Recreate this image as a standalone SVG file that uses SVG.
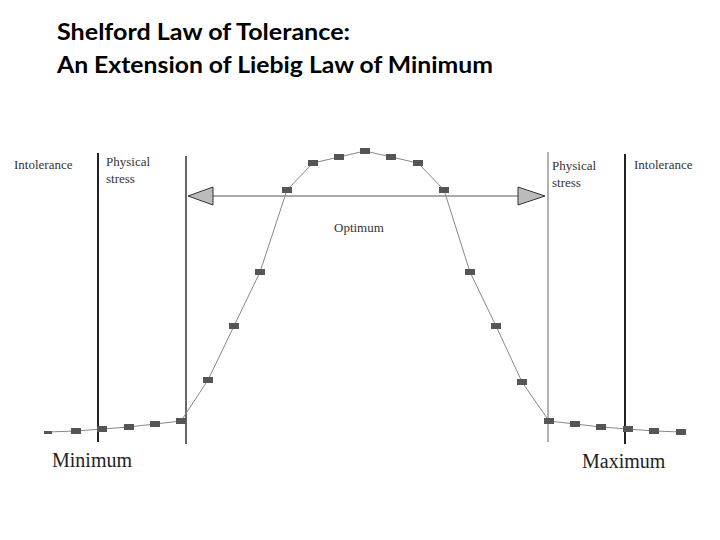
<svg xmlns="http://www.w3.org/2000/svg" width="720" height="540" viewBox="0 0 720 540">
<style>
.t{font-family:Lato,"Open Sans",sans-serif;font-size:23px;font-weight:bold;fill:#000}
.s{font-family:"Liberation Serif",serif;font-size:13px;fill:#333}
.b{font-family:"Liberation Serif",serif;font-size:20px;fill:#222}
.pt{fill:#555}
</style>
<defs><rect id="p" x="-5" y="-3" width="10" height="6" class="pt"/></defs>
<rect width="720" height="540" fill="#fff"/>
<text class="t" x="57" y="40" textLength="293" lengthAdjust="spacingAndGlyphs">Shelford Law of Tolerance:</text>
<text class="t" x="57" y="73" textLength="436" lengthAdjust="spacingAndGlyphs">An Extension of Liebig Law of Minimum</text>
<g id="lines">
<line x1="98" y1="153" x2="98" y2="442" stroke="#222" stroke-width="2"/>
<line x1="186" y1="156" x2="186" y2="444" stroke="#333" stroke-width="1.5"/>
<line x1="548" y1="152" x2="548" y2="442" stroke="#999" stroke-width="1.5"/>
<line x1="625" y1="154" x2="625" y2="444" stroke="#222" stroke-width="2"/>
</g>
<g id="connectors">
<line x1="210" y1="196" x2="520" y2="196" stroke="#aaa" stroke-width="2"/>
<polygon points="188,196 213,187 213,205" fill="#bbb" stroke="#333" stroke-width="1"/>
<polygon points="545,196 518,187 518,205" fill="#bbb" stroke="#333" stroke-width="1"/>
<polyline fill="none" stroke="#888" stroke-width="1" points="47,432 76,431 102,429 129,427 155,424 181,421 208,380 234,326 260,272 287,190 313,163 339,157 365,151 391,157 418,163 444,190 470,272 496,326 522,382 549,421 575,424 601,427 628,429 654,431 681,432"/>
</g>
<g id="points">
<rect x="44" y="431" width="8" height="3" class="pt"/>
<use href="#p" x="76" y="431"/><use href="#p" x="102" y="429"/><use href="#p" x="129" y="427"/><use href="#p" x="155" y="424"/><use href="#p" x="181" y="421"/><use href="#p" x="208" y="380"/><use href="#p" x="234" y="326"/><use href="#p" x="260" y="272"/><use href="#p" x="287" y="190"/><use href="#p" x="313" y="163"/><use href="#p" x="339" y="157"/><use href="#p" x="365" y="151"/><use href="#p" x="391" y="157"/><use href="#p" x="418" y="163"/><use href="#p" x="444" y="190"/><use href="#p" x="470" y="272"/><use href="#p" x="496" y="326"/><use href="#p" x="522" y="382"/><use href="#p" x="549" y="421"/><use href="#p" x="575" y="424"/><use href="#p" x="601" y="427"/><use href="#p" x="628" y="429"/><use href="#p" x="654" y="431"/><use href="#p" x="681" y="432"/>
</g>
<g id="labels">
<text class="s" x="14" y="169">Intolerance</text>
<text class="s" x="106" y="166">Physical</text>
<text class="s" x="106" y="183">stress</text>
<text class="s" x="552" y="170">Physical</text>
<text class="s" x="552" y="187">stress</text>
<text class="s" x="634" y="169">Intolerance</text>
<text class="s" x="334" y="232">Optimum</text>
<text class="b" x="52" y="467">Minimum</text>
<text class="b" x="582" y="468">Maximum</text>
</g>
</svg>
